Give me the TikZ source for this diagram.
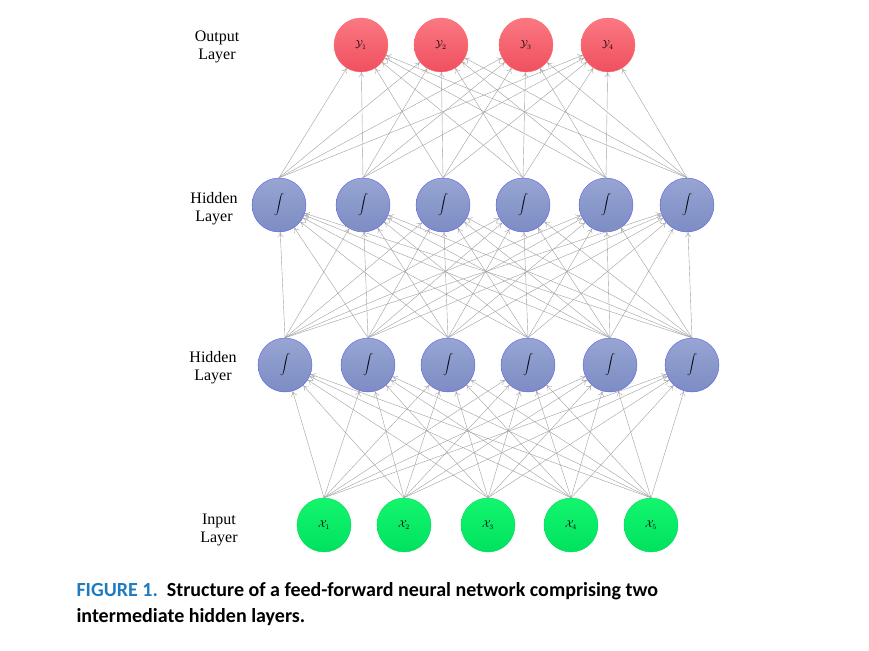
\documentclass[tikz,border=0pt]{standalone}
\usepackage{fontspec}
\setmainfont{Liberation Serif}
\newfontfamily\capfont{Carlito}
\usetikzlibrary{arrows.meta}
\definecolor{capblue}{HTML}{1F7AC0}
\begin{document}
\begin{tikzpicture}[x=1pt,y=-1pt,
  neuron/.style={circle,minimum size=54pt,inner sep=0pt},
  outn/.style={neuron,top color=red!45!white!90!red,bottom color=red!65!white,draw=red!60!white,top color={rgb,255:red,250;green,120;blue,130},bottom color={rgb,255:red,240;green,80;blue,95}},
  hidn/.style={neuron,top color={rgb,255:red,150;green,165;blue,210},bottom color={rgb,255:red,125;green,140;blue,195},draw={rgb,255:red,90;green,90;blue,240}},
  inn/.style={neuron,top color={rgb,255:red,20;green,245;blue,110},bottom color={rgb,255:red,0;green,225;blue,95},draw={rgb,255:red,0;green,220;blue,90}},
  lab/.style={font=\fontsize{16}{18}\selectfont,align=center},
  edge/.style={draw=gray!75,line width=0.4pt,-{To[length=5pt,width=6pt]}},
  sig/.style={font=\fontsize{22}{22}\selectfont}]
\useasboundingbox (0,0) rectangle (869,650);
\foreach \x [count=\i] in {361,441,526,608}
  \node[outn] (o\i) at (\x,45) {$\mathcal{Y}_{\i}$};
\foreach \x [count=\i] in {279,363,443,523,606,687}
  \node[hidn] (b\i) at (\x,205) {\fontsize{20}{20}\selectfont$\displaystyle\int$};
\foreach \x [count=\i] in {285,368,448,528,610,692}
  \node[hidn] (a\i) at (\x,365) {\fontsize{20}{20}\selectfont$\displaystyle\int$};
\foreach \x [count=\i] in {324,404,488,571,651}
  \node[inn] (x\i) at (\x,525) {$\mathcal{X}_{\i}$};
\foreach \s in {1,...,5}\foreach \t in {1,...,6}
  \draw[edge] (x\s.north) -- (a\t);
\foreach \s in {1,...,6}\foreach \t in {1,...,6}
  \draw[edge] (a\s.north) -- (b\t);
\foreach \s in {1,...,6}\foreach \t in {1,...,4}
  \draw[edge] (b\s.north) -- (o\t);
\node[lab] (l1) at (217,47) {Output\\Layer};
\node[lab] (l2) at (214,209) {Hidden\\Layer};
\node[lab] (l3) at (213,368) {Hidden\\Layer};
\node[lab] (l4) at (219,530) {Input\\Layer};
\node[anchor=west,font=\capfont\bfseries\fontsize{20}{26}\selectfont,align=left] (cap) at (73,604)
 {\textcolor{capblue}{FIGURE 1.}\ \ Structure of a feed-forward neural network comprising two\\intermediate hidden layers.};
\end{tikzpicture}
\end{document}
